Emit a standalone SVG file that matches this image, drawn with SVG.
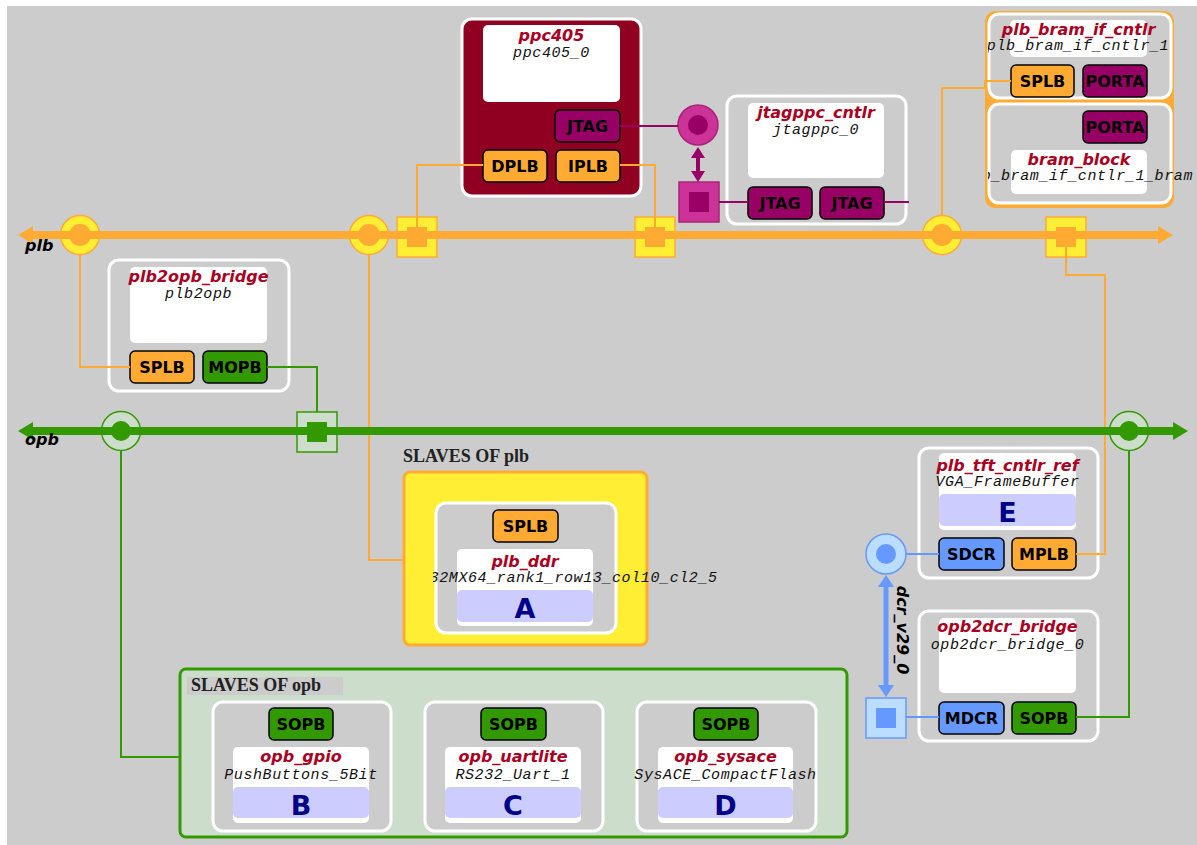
<svg xmlns="http://www.w3.org/2000/svg" width="1197" height="845" viewBox="0 0 1197 845">
<style>
.node{fill:#cccccc;stroke:#ffffff;stroke-width:3}
.lbl{fill:#ffffff}
.let{fill:#ccccff}
.port{stroke:#000;stroke-width:1.5}
.plbp{fill:#ffaa33}.opbp{fill:#339900}.jtp{fill:#990066}.dcrp{fill:#6699ff}
.pt{font-family:"DejaVu Sans",sans-serif;font-weight:bold;font-size:16px;text-anchor:middle;fill:#000}
.type{font-family:"DejaVu Sans",sans-serif;font-weight:bold;font-style:italic;font-size:16px;text-anchor:middle;fill:#aa0022}
.inst{font-family:"Liberation Mono",monospace;font-style:italic;font-size:15px;letter-spacing:0.6px;text-anchor:middle;fill:#111}
.big{font-family:"DejaVu Sans",sans-serif;font-weight:bold;font-size:27px;text-anchor:middle;fill:#000088}
.bus{font-family:"DejaVu Sans",sans-serif;font-weight:bold;font-style:italic;font-size:16px;fill:#000}
.slv{font-family:"Liberation Serif",serif;font-weight:bold;font-size:18px;fill:#222}
.cplb{stroke:#ffaa33;stroke-width:2;fill:none}
.copb{stroke:#339900;stroke-width:2;fill:none}
.cjt{stroke:#990066;stroke-width:2;fill:none}
.cdcr{stroke:#6699ff;stroke-width:2;fill:none}
</style>
<defs>
<clipPath id="clipBram"><rect x="988" y="0" width="209" height="210"/></clipPath>
<clipPath id="clipDdr"><rect x="433" y="560" width="400" height="40"/></clipPath>
</defs>
<rect x="7" y="6" width="1190" height="839" fill="#cccccc"/>

<g id="slaves_plb">
<text class="slv" x="403" y="462">SLAVES OF plb</text>
<rect x="404" y="472" width="243" height="173" rx="6" fill="#ffee33" stroke="#ffaa33" stroke-width="3"/>
</g>
<g id="slaves_opb">
<rect x="180" y="669" width="667" height="168" rx="6" fill="#ccddcc" stroke="#339900" stroke-width="3"/>
<rect x="187" y="677" width="156" height="18" fill="#cccccc"/>
<text class="slv" x="191" y="691">SLAVES OF opb</text>
</g>

<g id="ppc405">
<rect x="462" y="19" width="179" height="177" rx="10" fill="#900020" stroke="#fff" stroke-width="3"/>
<rect class="lbl" x="483" y="25" width="137" height="77" rx="5"/>
<text class="type" x="551.5" y="41">ppc405</text>
<text class="inst" x="551.5" y="57">ppc405_0</text>
<rect class="port jtp" x="555" y="110" width="65" height="32" rx="5"/><text class="pt" x="587.5" y="132">JTAG</text>
<rect class="port plbp" x="483" y="150" width="64" height="32" rx="5"/><text class="pt" x="515" y="172">DPLB</text>
<rect class="port plbp" x="556" y="150" width="64" height="32" rx="5"/><text class="pt" x="588" y="172">IPLB</text>
</g>

<g id="jtagppc_cntlr">
<rect class="node" x="727" y="96" width="179" height="128" rx="10"/>
<rect class="lbl" x="748" y="103" width="136" height="75" rx="5"/>
<text class="type" x="816" y="118">jtagppc_cntlr</text>
<text class="inst" x="816" y="134">jtagppc_0</text>
<rect class="port jtp" x="748" y="187" width="64" height="32" rx="5"/><text class="pt" x="780" y="209">JTAG</text>
<rect class="port jtp" x="820" y="187" width="64" height="32" rx="5"/><text class="pt" x="852" y="209">JTAG</text>
</g>

<g id="plb_bram_if_cntlr">
<rect x="985" y="11" width="189" height="197" rx="10" fill="#ffaa33"/>
<rect class="node" x="989" y="14" width="182" height="84" rx="10"/>
<rect class="lbl" x="1010" y="20" width="137" height="37" rx="5"/>
<text class="type" x="1078.5" y="35">plb_bram_if_cntlr</text>
<text class="inst" x="1078" y="50" clip-path="url(#clipBram)">plb_bram_if_cntlr_1</text>
<rect class="port plbp" x="1011" y="65" width="63" height="32" rx="5"/><text class="pt" x="1042.5" y="87">SPLB</text>
<rect class="port jtp" x="1083" y="65" width="64" height="32" rx="5"/><text class="pt" x="1115" y="87">PORTA</text>
</g>
<g id="bram_block">
<rect class="node" x="989" y="104" width="182" height="99" rx="10"/>
<rect class="port jtp" x="1083" y="111" width="64" height="32" rx="5"/><text class="pt" x="1115" y="133">PORTA</text>
<rect class="lbl" x="1011" y="150" width="136" height="44" rx="5"/>
<text class="type" x="1079" y="165">bram_block</text>
<text class="inst" x="981.8" y="180" style="text-anchor:start" clip-path="url(#clipBram)">b_bram_if_cntlr_1_bram</text>
</g>

<g id="plb2opb_bridge">
<rect class="node" x="109" y="260" width="180" height="131" rx="10"/>
<rect class="lbl" x="130" y="267" width="137" height="76" rx="5"/>
<text class="type" x="198.5" y="282">plb2opb_bridge</text>
<text class="inst" x="198.5" y="298">plb2opb</text>
<rect class="port plbp" x="130" y="351" width="64" height="32" rx="5"/><text class="pt" x="162" y="373">SPLB</text>
<rect class="port opbp" x="203" y="351" width="64" height="32" rx="5"/><text class="pt" x="235" y="373">MOPB</text>
</g>

<g id="plb_ddr">
<rect class="node" x="436" y="503" width="180" height="130" rx="10"/>
<rect class="port plbp" x="493" y="510" width="65" height="32" rx="5"/><text class="pt" x="525.5" y="532">SPLB</text>
<rect class="lbl" x="457" y="549" width="136" height="77" rx="5"/>
<text class="type" x="525" y="567">plb_ddr</text>
<text class="inst" x="429.6" y="582" style="text-anchor:start" clip-path="url(#clipDdr)">32MX64_rank1_row13_col10_cl2_5</text>
<rect class="let" x="457" y="590" width="136" height="32" rx="5"/>
<text class="big" x="525" y="618">A</text>
</g>

<g id="plb_tft_cntlr_ref">
<rect class="node" x="919" y="448" width="179" height="130" rx="10"/>
<rect class="lbl" x="939" y="453" width="137" height="77" rx="5"/>
<text class="type" x="1007.5" y="471">plb_tft_cntlr_ref</text>
<text class="inst" x="1007.5" y="486">VGA_FrameBuffer</text>
<rect class="let" x="939" y="494" width="137" height="32" rx="5"/>
<text class="big" x="1007.5" y="522">E</text>
<rect class="port dcrp" x="939" y="538" width="65" height="32" rx="5"/><text class="pt" x="971.5" y="560">SDCR</text>
<rect class="port plbp" x="1012" y="538" width="64" height="32" rx="5"/><text class="pt" x="1044" y="560">MPLB</text>
</g>

<g id="opb2dcr_bridge">
<rect class="node" x="919" y="611" width="179" height="130" rx="10"/>
<rect class="lbl" x="939" y="618" width="137" height="75" rx="5"/>
<text class="type" x="1007.5" y="632">opb2dcr_bridge</text>
<text class="inst" x="1007.5" y="649">opb2dcr_bridge_0</text>
<rect class="port dcrp" x="939" y="702" width="65" height="32" rx="5"/><text class="pt" x="971.5" y="724">MDCR</text>
<rect class="port opbp" x="1012" y="702" width="64" height="32" rx="5"/><text class="pt" x="1044" y="724">SOPB</text>
</g>

<g id="opb_gpio">
<rect class="node" x="213" y="702" width="178" height="129" rx="10"/>
<rect class="port opbp" x="269" y="708" width="64" height="32" rx="5"/><text class="pt" x="301" y="730">SOPB</text>
<rect class="lbl" x="233" y="747" width="136" height="76" rx="5"/>
<text class="type" x="301" y="762">opb_gpio</text>
<text class="inst" x="301" y="779">PushButtons_5Bit</text>
<rect class="let" x="233" y="787" width="136" height="31" rx="5"/>
<text class="big" x="301" y="815">B</text>
</g>
<g id="opb_uartlite">
<rect class="node" x="425" y="702" width="178" height="129" rx="10"/>
<rect class="port opbp" x="481" y="708" width="65" height="32" rx="5"/><text class="pt" x="513.5" y="730">SOPB</text>
<rect class="lbl" x="445" y="747" width="136" height="76" rx="5"/>
<text class="type" x="513" y="762">opb_uartlite</text>
<text class="inst" x="513" y="779">RS232_Uart_1</text>
<rect class="let" x="445" y="787" width="136" height="31" rx="5"/>
<text class="big" x="513" y="815">C</text>
</g>
<g id="opb_sysace">
<rect class="node" x="637" y="702" width="179" height="129" rx="10"/>
<rect class="port opbp" x="694" y="708" width="64" height="32" rx="5"/><text class="pt" x="726" y="730">SOPB</text>
<rect class="lbl" x="658" y="747" width="135" height="76" rx="5"/>
<text class="type" x="725.5" y="762">opb_sysace</text>
<text class="inst" x="725.5" y="779">SysACE_CompactFlash</text>
<rect class="let" x="658" y="787" width="135" height="31" rx="5"/>
<text class="big" x="725.5" y="815">D</text>
</g>

<g id="bus_attachments">
<g fill="#ffee33" stroke="#ffaa33" stroke-width="1.5">
<circle cx="80" cy="235" r="19.5"/><circle cx="369" cy="235" r="19.5"/><circle cx="942" cy="235" r="19.5"/>
<rect x="397" y="217" width="40" height="40"/><rect x="635" y="217" width="40" height="40"/><rect x="1046" y="217" width="40" height="40"/>
</g>
<g fill="#ffaa33">
<circle cx="80" cy="235" r="11"/><circle cx="369" cy="235" r="11"/><circle cx="942" cy="235" r="11"/>
<rect x="407" y="227" width="20" height="20"/><rect x="645" y="227" width="20" height="20"/><rect x="1056" y="227" width="20" height="20"/>
</g>
<g fill="#ccddcc" stroke="#339900" stroke-width="1.5">
<circle cx="121" cy="431" r="19.5"/><circle cx="1129" cy="431" r="19.5"/>
<rect x="297" y="412" width="40" height="40"/>
</g>
<g fill="#339900">
<circle cx="121" cy="431" r="10"/><circle cx="1129" cy="431" r="10"/>
<rect x="307" y="422" width="20" height="20"/>
</g>
<circle cx="698" cy="125" r="20" fill="#cc3399" stroke="#aa2277" stroke-width="1.5"/>
<circle cx="698" cy="125" r="10" fill="#990066"/>
<rect x="679" y="182" width="40" height="40" fill="#cc3399" stroke="#aa2277" stroke-width="1.5"/>
<rect x="689" y="192" width="20" height="20" fill="#990066"/>
<circle cx="886" cy="554" r="20" fill="#bbddff" stroke="#6699ff" stroke-width="1.5"/>
<circle cx="886" cy="554" r="10" fill="#6699ff"/>
<rect x="866" y="698" width="40" height="40" fill="#bbddff" stroke="#6699ff" stroke-width="1.5"/>
<rect x="876" y="708" width="20" height="20" fill="#6699ff"/>
</g>

<g id="connectors">
<polyline class="cplb" points="130,367 80,367 80,255"/>
<polyline class="copb" points="267,367 317,367 317,412"/>
<polyline class="cplb" points="483,165 417,165 417,227"/>
<polyline class="cplb" points="620,165 655,165 655,227"/>
<polyline class="cplb" points="369,255 369,560 404,560"/>
<polyline class="cplb" points="942,215 942,88 985,88 985,81 1011,81"/>
<polyline class="cplb" points="1076,554 1105,554 1105,275 1066,275 1066,247"/>
<polyline class="cdcr" points="939,554 906,554"/>
<polyline class="cdcr" points="939,717 906,717"/>
<polyline class="copb" points="1076,717 1129,717 1129,451"/>
<polyline class="copb" points="121,451 121,757 180,757"/>
<polyline class="cjt" points="620,126 678,126"/>
<polyline class="cjt" points="719,202 748,202"/>
<polyline class="cjt" points="884,202 909,202"/>
<g id="jtag_link" fill="#990066">
<rect x="696" y="155" width="4" height="19"/>
<polygon points="698,147 705,158 691,158"/>
<polygon points="698,182 705,171 691,171"/>
</g>
<g id="dcr_link" fill="#6699ff">
<rect x="883.5" y="584" width="5" height="104"/>
<polygon points="886,575 894,587 878,587"/>
<polygon points="886,697 894,685 878,685"/>
</g>
<text class="bus" transform="translate(897,630) rotate(90)" text-anchor="middle">dcr_v29_0</text>
</g>

<g id="plb_bus">
<rect x="30" y="231" width="1130" height="8" fill="#ffaa33"/>
<polygon points="18,235 33,226 33,244" fill="#ffaa33"/>
<polygon points="1173,235 1158,226 1158,244" fill="#ffaa33"/>
<text class="bus" x="25" y="251">plb</text>
</g>
<g id="opb_bus">
<rect x="30" y="427" width="1145" height="8" fill="#339900"/>
<polygon points="18,431 33,422 33,440" fill="#339900"/>
<polygon points="1188,431 1173,422 1173,440" fill="#339900"/>
<text class="bus" x="25" y="445">opb</text>
</g>
</svg>
